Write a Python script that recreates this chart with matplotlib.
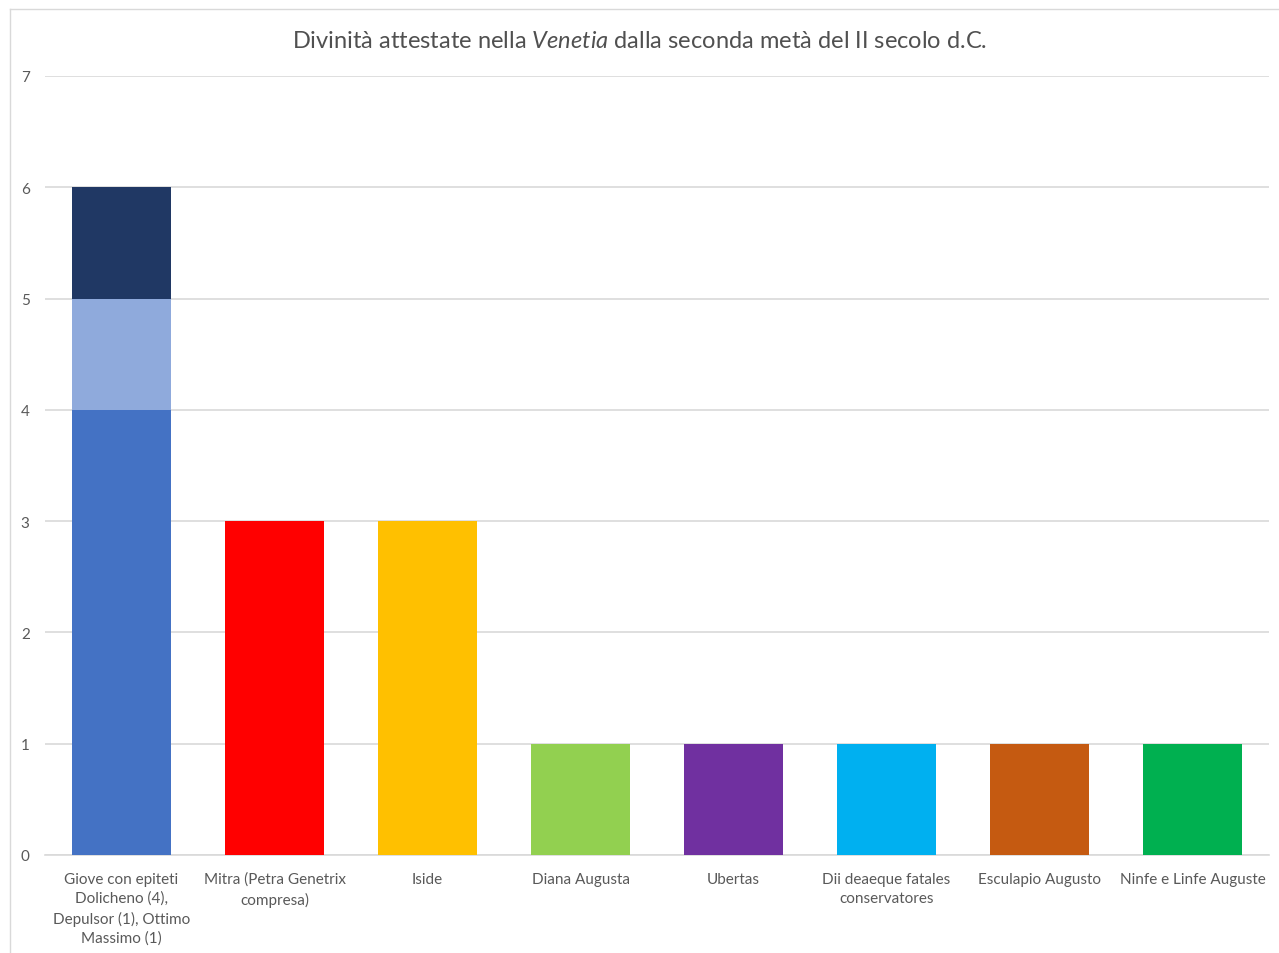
import matplotlib
matplotlib.use("Agg")
import matplotlib.pyplot as plt
from matplotlib.lines import Line2D

# ---- data ---------------------------------------------------------------
categories = [
    "Giove con epiteti\nDolicheno (4),\nDepulsor (1), Ottimo\nMassimo (1)",
    "Mitra (Petra Genetrix\ncompresa)",
    "Iside",
    "Diana Augusta",
    "Ubertas",
    "Dii deaeque fatales\nconservatores",
    "Esculapio Augusto",
    "Ninfe e Linfe Auguste",
]
giove_parts = [4, 1, 1]          # Dolicheno, Depulsor, Ottimo Massimo
giove_colors = ["#4472C4", "#8FAADC", "#203864"]
other_values = [3, 3, 1, 1, 1, 1, 1]
other_colors = ["#FF0000", "#FFC000", "#92D050", "#7030A0",
                "#00B0F0", "#C55A11", "#00B050"]
yticks = [0, 1, 2, 3, 4, 5, 6, 7]

plt.rcParams["font.family"] = ["Lato", "DejaVu Sans"]
plt.rcParams["mathtext.fontset"] = "custom"
plt.rcParams["mathtext.rm"] = "Lato"
plt.rcParams["mathtext.it"] = "Lato:italic"

fig = plt.figure(figsize=(12.79, 9.54), dpi=100)
ax = fig.add_axes([45 / 1279, 1 - 856 / 954, 1224 / 1279, 779 / 954])

width = 0.65
bottom = 0
for val, col in zip(giove_parts, giove_colors):
    ax.bar(0, val, width=width, bottom=bottom, color=col, zorder=3)
    bottom += val
ax.bar(range(1, len(categories)), other_values, width=width, color=other_colors, zorder=3)

ax.set_xlim(-0.5, len(categories) - 0.5)
ax.set_ylim(0, 7)
ax.set_yticks(yticks)
ax.set_xticks(range(len(categories)))
ax.set_xticklabels(categories, fontsize=11, color="#595959", linespacing=1.45)
ax.tick_params(axis="y", labelsize=11, labelcolor="#595959", length=0, pad=11)
ax.tick_params(axis="x", length=0, pad=12)

ax.grid(axis="y", color="#D9D9D9", linewidth=1.2, zorder=0)
for s in ["top", "right", "left"]:
    ax.spines[s].set_visible(False)
ax.spines["bottom"].set_color("#D9D9D9")
ax.spines["bottom"].set_linewidth(1.2)

fig.text(0.5, 1 - 41 / 954,
         r"Divinità attestate nella $\mathit{Venetia}$ dalla seconda metà del II secolo d.C.",
         ha="center", va="center", fontsize=17, color="#505050")

# light chart frame (top and left edges visible in the reference)
fig.add_artist(Line2D([10 / 1279, 10 / 1279], [0, 1 - 10 / 954],
                      transform=fig.transFigure, color="#D9D9D9", linewidth=1))
fig.add_artist(Line2D([10 / 1279, 1], [1 - 10 / 954, 1 - 10 / 954],
                      transform=fig.transFigure, color="#D9D9D9", linewidth=1))

fig.savefig("out.png", dpi=100)
